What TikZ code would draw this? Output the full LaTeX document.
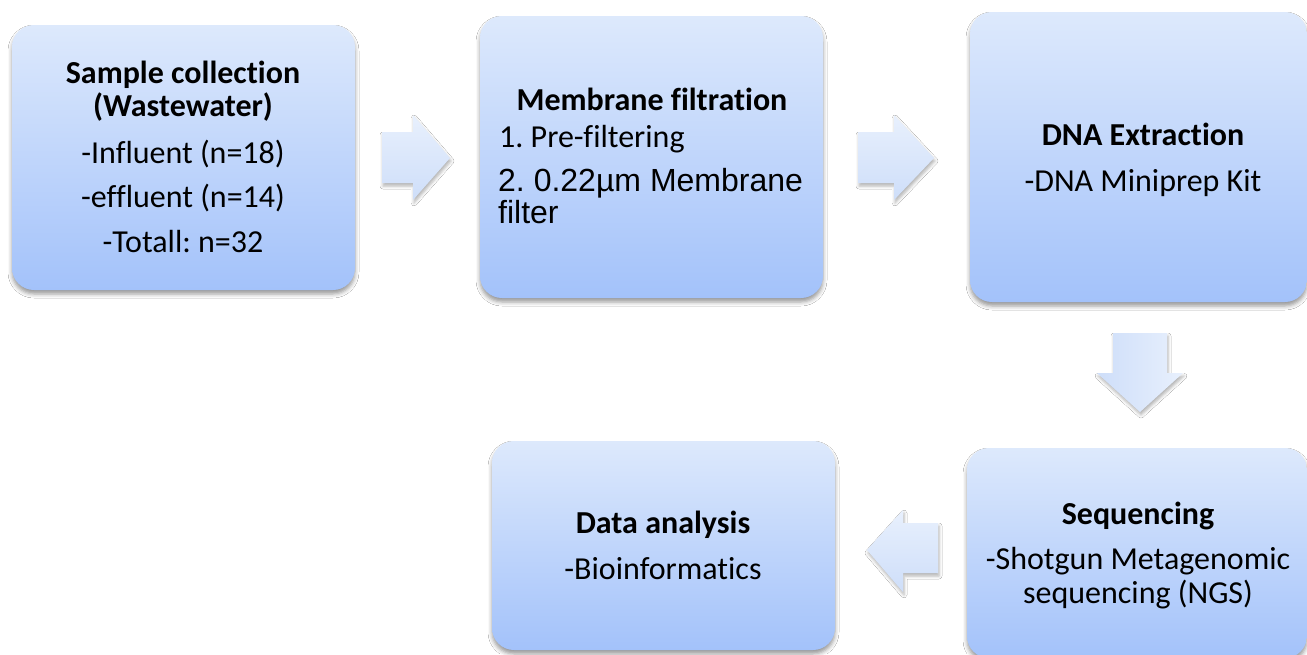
\documentclass[tikz,border=0pt]{standalone}
\usepackage{fontspec}
\setmainfont{Carlito}[Ligatures={NoCommon}]
\newfontfamily\arialfont{Liberation Sans}
\frenchspacing
\usetikzlibrary{shadows.blur}
\definecolor{boxtop}{RGB}{221,233,252}
\definecolor{boxbot}{RGB}{163,194,250}
\definecolor{arrtop}{RGB}{232,240,253}
\definecolor{arrbot}{RGB}{206,222,249}
\tikzset{
  box/.style={rectangle, rounded corners=22pt, top color=boxtop, bottom color=boxbot, draw=none,
    blur shadow={shadow xshift=0pt, shadow yshift=-4pt, shadow blur radius=4pt, shadow opacity=40}},
  blockarrow/.style={top color=arrtop, bottom color=arrbot, draw=none,
    blur shadow={shadow xshift=1pt, shadow yshift=-3pt, shadow blur radius=3pt, shadow opacity=30}},
  downarrow/.style={left color=arrbot, right color=arrtop, draw=none,
    blur shadow={shadow xshift=1pt, shadow yshift=-3pt, shadow blur radius=3pt, shadow opacity=30}},
  txt/.style={anchor=base, inner sep=0pt, font=\fontsize{32}{38}\selectfont},
  ttl/.style={txt, font=\fontsize{32}{38}\selectfont\bfseries},
  txtl/.style={txt, anchor=base west},
  atxt/.style={anchor=base west, inner sep=0pt, font=\fontsize{32}{38}\selectfont\arialfont}
}
\begin{document}
\begin{tikzpicture}[x=1pt,y=-1pt]
\useasboundingbox (0,0) rectangle (1307,654);
\fill[white] (0,0) rectangle (1307,654);
% boxes
\node[box, minimum width=343pt, minimum height=265pt] (b1) at (183.5,157.5) {};
\node[box, minimum width=343pt, minimum height=282pt] (b2) at (651.5,157) {};
\node[box, minimum width=337pt, minimum height=290pt] (b3) at (1138.5,157) {};
\node[box, minimum width=340pt, minimum height=210pt] (b4) at (1137,553) {};
\node[box, minimum width=343pt, minimum height=209pt] (b5) at (663.5,545.5) {};
% arrows
\path[blockarrow] (382,132) -- (413,132) -- (413,115) -- (450,158) -- (413,200) -- (413,183) -- (382,183) -- cycle;
\path[blockarrow] (858,132) -- (894,132) -- (894,115) -- (934,158) -- (894,200) -- (894,183) -- (858,183) -- cycle;
\path[downarrow] (1113,333) -- (1167,333) -- (1167,373) -- (1183,373) -- (1140,412) -- (1097,373) -- (1113,373) -- cycle;
\path[blockarrow] (938,523) -- (903,523) -- (903,510) -- (867,550) -- (903,592) -- (903,573) -- (938,573) -- cycle;
% box 1 text
\node[ttl] (t1a) at (183,83) {Sample collection};
\node[ttl] (t1b) at (183,116) {(Wastewater)};
\node[txt] (t1c) at (183,163) {-Influent (n=18)};
\node[txt] (t1d) at (183,207) {-effluent (n=14)};
\node[txt] (t1e) at (183,252) {-Totall: n=32};
% box 2 text
\node[ttl] (t2a) at (652,110) {Membrane filtration};
\node[txtl] (t2b) at (499,147) {1. Pre-filtering};
\node[atxt] (t2c) at (498,191) {2. 0.22µm Membrane};
\node[atxt] (t2d) at (498,223) {filter};
% box 3 text
\node[ttl] (t3a) at (1143,145) {DNA Extraction};
\node[txt] (t3b) at (1143,191) {-DNA Miniprep Kit};
% box 4 text
\node[ttl] (t4a) at (1138,524) {Sequencing};
\node[txt] (t4b) at (1138,569) {-Shotgun Metagenomic};
\node[txt] (t4c) at (1138,603) {sequencing (NGS)};
% box 5 text
\node[ttl] (t5a) at (663,533) {Data analysis};
\node[txt] (t5b) at (663,579) {-Bioinformatics};
\end{tikzpicture}
\end{document}
